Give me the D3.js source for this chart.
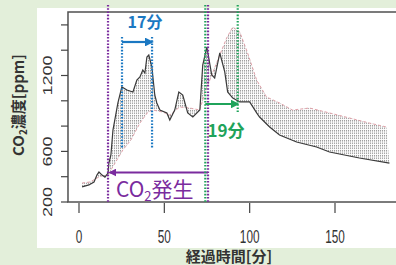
<!DOCTYPE html>
<html>
<head>
<meta charset="utf-8">
<script src="https://cdn.jsdelivr.net/npm/d3@7"></script>
<style>
  html, body { margin: 0; padding: 0; background: #e3efda; }
  svg { display: block; }
</style>
</head>
<body>
<svg id="chart" width="396" height="265"></svg>
<script>
// 実測値 (黒の実線)
const timeBlack = [1.8, 5.8, 8.8, 10.5, 11.7, 13.5, 15.2, 17, 17.5, 18.7, 19.9, 22.8, 25.1, 28.1, 31.6, 33.9, 35.7, 37.4, 38.6, 39.8, 40.9, 42.7, 44.4, 45.6, 47.4, 51.5, 53.2, 56.1, 58.5, 60.8, 63.7, 66.7, 70.8, 72.5, 74.9, 77.8, 79.5, 82.5, 85.4, 87.1, 90.1, 94.2, 100, 104.1, 105.8, 111.7, 117.5, 127.5, 139.2, 146.8, 164.3, 181.9];
const co2Black = [319, 335, 358, 413, 437, 413, 397, 429, 508, 572, 769, 983, 1109, 1085, 1070, 1164, 1188, 1243, 1220, 1346, 1362, 1267, 1046, 983, 927, 904, 848, 927, 1070, 1046, 904, 872, 927, 1283, 1425, 1204, 1180, 1378, 1228, 1070, 1022, 991, 991, 904, 872, 793, 730, 674, 635, 595, 548, 508];

// 計算値 (ピンクの破線)
const timePink = [1.8, 6.4, 11.7, 15.2, 17, 18.7, 25.7, 30.4, 35.7, 40.4, 43.3, 49.1, 53.2, 59, 64.9, 70.8, 73.7, 77.8, 82.5, 86.5, 90.1, 94.2, 98.8, 104.1, 109.9, 117.5, 125.1, 135.1, 146.8, 158.5, 170.2, 180.1];
const co2Pink = [350, 358, 398, 413, 405, 453, 611, 690, 824, 911, 927, 911, 888, 951, 943, 927, 1062, 1204, 1362, 1496, 1583, 1544, 1378, 1164, 1030, 983, 927, 943, 904, 864, 824, 793];

// 軸の目盛り
const xTicks = [0, 50, 100, 150];
const yTicks = [200, 400, 600, 800, 1000, 1200, 1400, 1600];
const yTickLabels = [200, 600, 1200];

// 注釈の時刻 [分]
const co2Start = 17, co2End = 75.6;
const blueLines = [25.2, 42.8];
const greenLines = [74, 93];

const svg = d3.select("#chart");

// 白いパネル
svg.append("rect")
    .attr("x", 37).attr("y", 8)
    .attr("width", 370).attr("height", 240)
    .attr("fill", "#ffffff");

// スケール
const x = d3.scaleLinear().domain([0, 150]).range([79, 335]);
const y = d3.scaleLinear().domain([200, 1702]).range([202, 12]);

// ハッチング模様
const defs = svg.append("defs");
const pat = defs.append("pattern")
    .attr("id", "hatch")
    .attr("patternUnits", "userSpaceOnUse")
    .attr("width", 2).attr("height", 2.5);
pat.append("rect")
    .attr("x", 0).attr("y", 0)
    .attr("width", 1.1).attr("height", 1.5)
    .attr("fill", "#9c9c9c");

const black = timeBlack.map((t, i) => [t, co2Black[i]]);
const pink = timePink.map((t, i) => [t, co2Pink[i]]);

const line = d3.line()
    .x(d => x(d[0]))
    .y(d => y(d[1]));

// 黒線とピンク線の間の帯
svg.append("path")
    .attr("d", line(black.concat(pink.slice().reverse())) + "Z")
    .attr("fill", "url(#hatch)")
    .attr("stroke", "none");

svg.append("path")
    .datum(pink)
    .attr("fill", "none")
    .attr("stroke", "#e0a2aa")
    .attr("stroke-width", 1)
    .attr("stroke-dasharray", "3,2")
    .attr("d", line);

svg.append("path")
    .datum(black)
    .attr("fill", "none")
    .attr("stroke", "#3a3a3a")
    .attr("stroke-width", 1.2)
    .attr("d", line);

// 枠
svg.append("rect")
    .attr("x", x(-6.45)).attr("y", y(1702))
    .attr("width", 400).attr("height", y(200) - y(1702))
    .attr("fill", "none")
    .attr("stroke", "#505050")
    .attr("stroke-width", 1.5);

// x軸
svg.selectAll(".xtick")
    .data(xTicks)
    .enter().append("line")
    .attr("x1", d => x(d)).attr("x2", d => x(d))
    .attr("y1", 203).attr("y2", 213)
    .attr("stroke", "#444").attr("stroke-width", 1.2);

svg.selectAll(".xlab")
    .data(xTicks)
    .enter().append("text")
    .attr("transform", d => `translate(${x(d)},243) scale(0.62,1)`)
    .attr("text-anchor", "middle")
    .attr("font-family", "Liberation Sans, Arial, sans-serif")
    .attr("font-size", 19)
    .attr("fill", "#333")
    .text(d => d);

// y軸
svg.selectAll(".ytick")
    .data(yTicks)
    .enter().append("line")
    .attr("x1", 61).attr("x2", 68)
    .attr("y1", d => y(d)).attr("y2", d => y(d))
    .attr("stroke", "#444").attr("stroke-width", 1.2);

svg.selectAll(".ylab")
    .data(yTickLabels)
    .enter().append("text")
    .attr("transform", d => `translate(52,${y(d)}) scale(0.75,1) rotate(-90)`)
    .attr("text-anchor", "middle")
    .attr("font-family", "Liberation Sans, Arial, sans-serif")
    .attr("font-size", 18)
    .attr("fill", "#333")
    .text(d => d);

// 軸タイトル
svg.append("text")
    .attr("x", 229).attr("y", 262)
    .attr("text-anchor", "middle")
    .attr("font-family", "Noto Sans CJK JP, sans-serif")
    .attr("font-size", 15)
    .attr("font-weight", "bold")
    .attr("fill", "#333")
    .text("経過時間[分]");

const yTitle = svg.append("text")
    .attr("transform", "translate(24,105) rotate(-90)")
    .attr("text-anchor", "middle")
    .attr("font-family", "Noto Sans CJK JP, sans-serif")
    .attr("font-size", 15)
    .attr("font-weight", "bold")
    .attr("fill", "#333");
yTitle.append("tspan").text("CO");
yTitle.append("tspan").attr("font-size", 10).attr("dy", 3).text("2");
yTitle.append("tspan").attr("dy", -3).text("濃度[ppm]");

// 矢印マーカー
function marker(id, color) {
    const m = defs.append("marker")
        .attr("id", id)
        .attr("viewBox", "0 0 10 10")
        .attr("refX", 8).attr("refY", 5)
        .attr("markerWidth", 4).attr("markerHeight", 4)
        .attr("orient", "auto-start-reverse");
    m.append("path").attr("d", "M0,0 L10,5 L0,10 Z").attr("fill", color);
}
const blue = "#1b78c2", green = "#1fa35a", purple = "#7a2b9e";
marker("arrBlue", blue);
marker("arrGreen", green);
marker("arrPurple", purple);

function vdot(t, y1, y2, color) {
    svg.append("line")
        .attr("x1", x(t)).attr("x2", x(t))
        .attr("y1", y1).attr("y2", y2)
        .attr("stroke", color)
        .attr("stroke-width", 2.2)
        .attr("stroke-dasharray", "1.6,1.6");
}

// CO2発生区間
vdot(co2Start, 5, 203, purple);
vdot(co2End, 5, 203, purple);
svg.append("line")
    .attr("x1", x(co2End)).attr("x2", x(co2Start) + 2)
    .attr("y1", 172.5).attr("y2", 172.5)
    .attr("stroke", purple).attr("stroke-width", 2)
    .attr("marker-end", "url(#arrPurple)");
const co2Text = svg.append("text")
    .attr("x", 116).attr("y", 197)
    .attr("font-family", "Noto Sans CJK JP, sans-serif")
    .attr("font-size", 21)
    .attr("fill", purple);
co2Text.append("tspan").text("CO");
co2Text.append("tspan").attr("font-size", 13).attr("dy", 4).text("2");
co2Text.append("tspan").attr("dy", -4).text("発生");

// 17分
blueLines.forEach(t => vdot(t, 37, 148, blue));
svg.append("line")
    .attr("x1", x(blueLines[0])).attr("x2", x(blueLines[1]))
    .attr("y1", 42).attr("y2", 42)
    .attr("stroke", blue).attr("stroke-width", 2.2)
    .attr("marker-end", "url(#arrBlue)");
svg.append("text")
    .attr("x", 145).attr("y", 28)
    .attr("text-anchor", "middle")
    .attr("font-family", "Noto Sans CJK JP, sans-serif")
    .attr("font-size", 16)
    .attr("font-weight", "bold")
    .attr("fill", blue)
    .text("17分");

// 19分
vdot(greenLines[0], 5, 203, green);
vdot(greenLines[1], 5, 112, green);
svg.append("line")
    .attr("x1", x(greenLines[0])).attr("x2", x(greenLines[1]))
    .attr("y1", 104).attr("y2", 104)
    .attr("stroke", green).attr("stroke-width", 2.2)
    .attr("marker-end", "url(#arrGreen)");
svg.append("text")
    .attr("x", 226).attr("y", 137)
    .attr("text-anchor", "middle")
    .attr("font-family", "Noto Sans CJK JP, sans-serif")
    .attr("font-size", 17)
    .attr("font-weight", "bold")
    .attr("fill", green)
    .text("19分");
</script>
</body>
</html>
